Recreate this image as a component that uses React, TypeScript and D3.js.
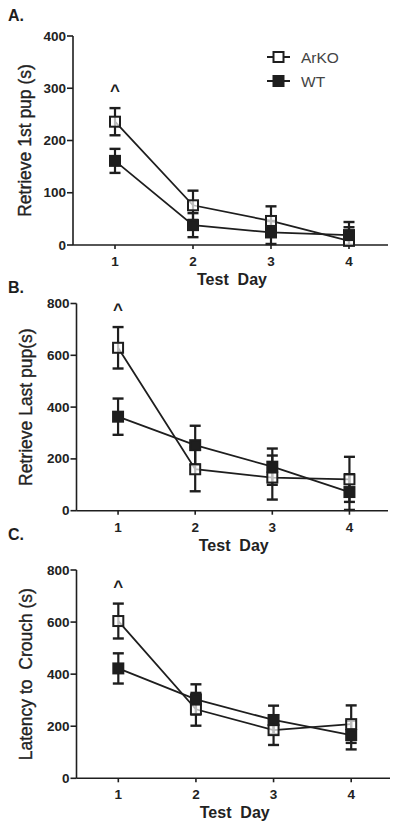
import React from "react";
import * as d3 from "d3";

const days = [1, 2, 3, 4];
const xTicks = ["1", "2", "3", "4"];
const seriesNames = ["ArKO", "WT"];

const aArKO = [236, 76, 46, 8];
const aArKOErr = [26, 28, 28, 26];
const aWT = [161, 38, 24, 19];
const aWTErr = [23, 23, 22, 25];
const aTicks = [0, 100, 200, 300, 400];

const bArKO = [629, 160, 128, 121];
const bArKOErr = [80, 85, 85, 87];
const bWT = [363, 253, 170, 72];
const bWTErr = [70, 75, 70, 69];
const bTicks = [0, 200, 400, 600, 800];

const cArKO = [604, 265, 185, 208];
const cArKOErr = [67, 63, 57, 72];
const cWT = [422, 303, 224, 166];
const cWTErr = [58, 58, 55, 55];
const cTicks = [0, 200, 400, 600, 800];

const FONT = "'Liberation Sans', Arial, Helvetica, sans-serif";
const INK = "#1e1e1e";

type PanelProps = {
  letter: string;
  letterY: number;
  yLabel: string;
  yLabelX: number;
  left: number;
  right: number;
  top: number;
  bottom: number;
  yMax: number;
  ticks: number[];
  arko: number[];
  arkoErr: number[];
  wt: number[];
  wtErr: number[];
  legend?: boolean;
};

function Panel(p: PanelProps) {
  const x = d3.scaleLinear().domain([0.5, 4.5]).range([p.left + 3, p.right]);
  const y = d3.scaleLinear().domain([0, p.yMax]).range([p.bottom, p.top]);
  const line = d3
    .line<number>()
    .x((_, i) => x(days[i]))
    .y((v) => y(v));
  const series = [
    { name: seriesNames[0], vals: p.arko, errs: p.arkoErr, open: true },
    { name: seriesNames[1], vals: p.wt, errs: p.wtErr, open: false },
  ];
  const mid = (x(1) + x(4)) / 2;
  const sq = 10;
  return (
    <g>
      <text x={8} y={p.letterY} fontFamily={FONT} fontWeight="bold" fontSize={16} fill={INK}>
        {p.letter}
      </text>
      <line x1={p.left} x2={p.left} y1={p.top} y2={p.bottom} stroke={INK} strokeWidth={1.6} />
      <line x1={p.left} x2={p.right} y1={p.bottom} y2={p.bottom} stroke={INK} strokeWidth={1.6} />
      {p.ticks.map((t) => (
        <g key={t}>
          <line x1={p.left - 6} x2={p.left} y1={y(t)} y2={y(t)} stroke={INK} strokeWidth={1.6} />
          <text
            x={p.left - 7}
            y={y(t) + 4.5}
            textAnchor="end"
            fontFamily={FONT}
            fontWeight="bold"
            fontSize={13.5}
            fill="#222"
          >
            {t}
          </text>
        </g>
      ))}
      {days.map((d, i) => (
        <g key={d}>
          <line x1={x(d)} x2={x(d)} y1={p.bottom} y2={p.bottom + 4} stroke={INK} strokeWidth={1.6} />
          <text
            x={x(d)}
            y={p.bottom + 21}
            textAnchor="middle"
            fontFamily={FONT}
            fontWeight="bold"
            fontSize={13.5}
            fill="#222"
          >
            {xTicks[i]}
          </text>
        </g>
      ))}
      <text
        x={mid}
        y={p.bottom + 40}
        textAnchor="middle"
        fontFamily={FONT}
        fontWeight="bold"
        fontSize={16}
        fill="#222"
        style={{ whiteSpace: "pre" }}
      >
        {"Test  Day"}
      </text>
      <text
        transform={`translate(${p.yLabelX},${(p.top + p.bottom) / 2}) rotate(-90)`}
        textAnchor="middle"
        fontFamily={FONT}
        fontSize={17.5}
        fill="#222"
        stroke="#222"
        strokeWidth={0.35}
        style={{ whiteSpace: "pre" }}
      >
        {p.yLabel}
      </text>
      {series.map((s) => (
        <path key={s.name + "l"} d={line(s.vals) || ""} fill="none" stroke={INK} strokeWidth={1.8} />
      ))}
      {series.map((s) =>
        s.vals.map((v, i) => {
          const lo = y(Math.max(0, v - s.errs[i]));
          const hi = y(v + s.errs[i]);
          const cx = x(days[i]);
          return (
            <g key={s.name + "e" + i}>
              <line x1={cx} x2={cx} y1={lo} y2={hi} stroke={INK} strokeWidth={2.2} />
              <line x1={cx - 5.5} x2={cx + 5.5} y1={hi} y2={hi} stroke={INK} strokeWidth={2.4} />
              <line x1={cx - 5.5} x2={cx + 5.5} y1={lo} y2={lo} stroke={INK} strokeWidth={2.4} />
            </g>
          );
        })
      )}
      {series.map((s) =>
        s.vals.map((v, i) => (
          <rect
            key={s.name + "m" + i}
            x={x(days[i]) - sq / 2}
            y={y(v) - sq / 2}
            width={sq}
            height={sq}
            fill={s.open ? "#fff" : INK}
            fillOpacity={s.open ? 0.7 : 1}
            stroke={INK}
            strokeWidth={2}
          />
        ))
      )}
      <text
        x={x(1)}
        y={y(p.arko[0] + p.arkoErr[0]) - 12}
        textAnchor="middle"
        fontFamily={FONT}
        fontWeight="bold"
        fontSize={17}
        fill={INK}
      >
        ^
      </text>
      {p.legend && (
        <g>
          {series.map((s, i) => {
            const ly = 57 + i * 24;
            return (
              <g key={s.name + "lg"}>
                <line x1={267} x2={290} y1={ly} y2={ly} stroke={INK} strokeWidth={2} />
                <rect
                  x={278.5 - sq / 2}
                  y={ly - sq / 2}
                  width={sq}
                  height={sq}
                  fill={s.open ? "#fff" : INK}
                  stroke={INK}
                  strokeWidth={2}
                />
                <text x={301} y={ly + 5.5} fontFamily={FONT} fontSize={15.5} fill="#444">
                  {s.name}
                </text>
              </g>
            );
          })}
        </g>
      )}
    </g>
  );
}

export default function App() {
  return (
    <svg
      width={400}
      height={833}
      style={{ position: "absolute", left: 0, top: 0, background: "#fff" }}
    >
      <rect width={400} height={833} fill="#fff" />
      <Panel
        letter="A."
        letterY={21}
        yLabel="Retrieve 1st pup (s)"
        yLabelX={31}
        left={73}
        right={388}
        top={36}
        bottom={245}
        yMax={400}
        ticks={aTicks}
        arko={aArKO}
        arkoErr={aArKOErr}
        wt={aWT}
        wtErr={aWTErr}
        legend
      />
      <Panel
        letter="B."
        letterY={293}
        yLabel="Retrieve Last pup(s)"
        yLabelX={32}
        left={76.5}
        right={388}
        top={303.5}
        bottom={510.7}
        yMax={800}
        ticks={bTicks}
        arko={bArKO}
        arkoErr={bArKOErr}
        wt={bWT}
        wtErr={bWTErr}
      />
      <Panel
        letter="C."
        letterY={540}
        yLabel="Latency to  Crouch (s)"
        yLabelX={32}
        left={76.5}
        right={390}
        top={570}
        bottom={778.3}
        yMax={800}
        ticks={cTicks}
        arko={cArKO}
        arkoErr={cArKOErr}
        wt={cWT}
        wtErr={cWTErr}
      />
    </svg>
  );
}
